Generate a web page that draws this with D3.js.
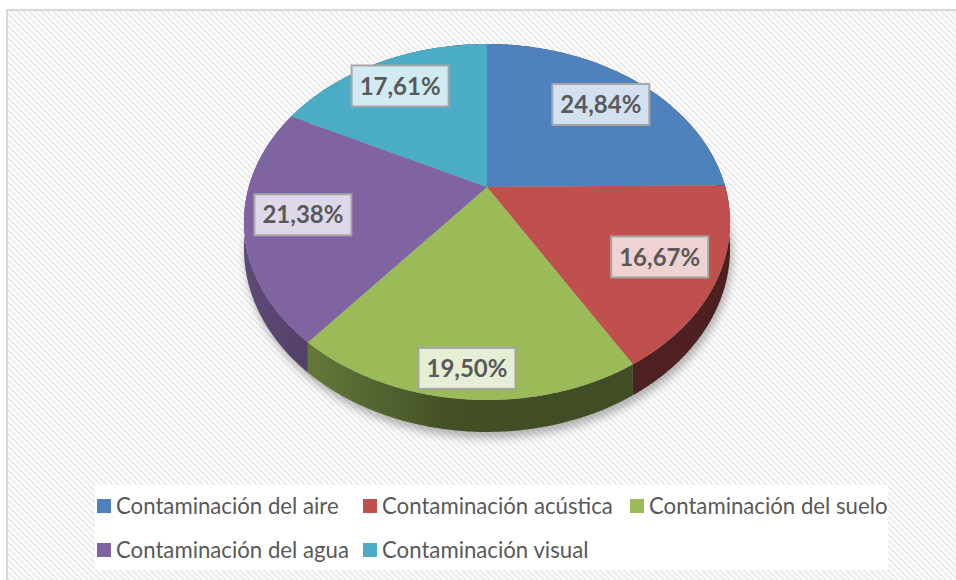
<!DOCTYPE html>
<html><head><meta charset="utf-8">
<script src="https://cdn.jsdelivr.net/npm/d3@7"></script>
<style>body{margin:0;background:#fff;overflow:hidden}</style></head>
<body><svg id="c" width="956" height="580"></svg>
<script>
const categories = ["Contaminación del aire","Contaminación acústica","Contaminación del suelo","Contaminación del agua","Contaminación visual"];
const values = [24.84, 16.67, 19.50, 21.38, 17.61];
const valueLabels = ["24,84%","16,67%","19,50%","21,38%","17,61%"];
const colors = ["#4f81bd","#c0504d","#9bbb59","#8064a2","#4bacc6"];

// layout (not data)
const layout = {cx:487, cy:187, A:238.3, B:171.1, k:0.1966, H:25.7};
const labelRadius = [0.75, 0.77, 0.88, 0.765, 0.785];

const svg = d3.select("#c");
const defs = svg.append("defs");

// hatch background
const pat = defs.append("pattern").attr("id","hatch").attr("patternUnits","userSpaceOnUse")
  .attr("width",6).attr("height",6);
pat.append("rect").attr("width",6).attr("height",6).attr("fill","#fdfdfd");
pat.append("path").attr("d","M0,0L6,6M-1,5L1,7M5,-1L7,1").attr("stroke","#ececec").attr("stroke-width",2);

svg.append("rect").attr("x",7).attr("y",10).attr("width",960).attr("height",580)
  .attr("fill","url(#hatch)").attr("stroke","#d9d9d9").attr("stroke-width",2);

const blur = defs.append("filter").attr("id","sh").attr("x","-20%").attr("y","-20%").attr("width","140%").attr("height","140%");
blur.append("feGaussianBlur").attr("stdDeviation",4);

function proj(theta, r, drop){
  const x = Math.sin(theta)*r, z = -Math.cos(theta)*r;
  const w = 1 - layout.k*z;
  return [layout.cx + layout.A*x/w, layout.cy + (layout.B*z + layout.H*drop)/w];
}
function arcPts(a0, a1, r, drop){
  const n = Math.max(2, Math.ceil((a1-a0)/0.01));
  return d3.range(n+1).map(i => proj(a0 + (a1-a0)*i/n, r, drop));
}

const pie = d3.pie().sort(null).startAngle(0).endAngle(2*Math.PI);
const arcs = pie(values);
const line = d3.line();

// shadow
const outline = arcPts(0, 2*Math.PI, 1, 1);
svg.append("path").attr("d", line(outline)+"Z").attr("fill","#000").attr("opacity",0.28)
  .attr("transform","translate(2,6)").attr("filter","url(#sh)");

// side walls
arcs.forEach((a,i) => {
  const c = d3.rgb(colors[i]);
  const gid = "g"+i;
  const g = defs.append("linearGradient").attr("id",gid).attr("gradientUnits","userSpaceOnUse")
    .attr("x1",244).attr("x2",730).attr("y1",0).attr("y2",0);
  const sc = f => d3.rgb(c.r*f, c.g*f, c.b*f).formatHex();
  [[0,0.74],[0.22,0.58],[0.42,0.43],[1,0.40]].forEach(([o,f]) => g.append("stop").attr("offset",o).attr("stop-color",sc(f)));
  const top = arcPts(a.startAngle, a.endAngle, 1, 0);
  const bot = arcPts(a.startAngle, a.endAngle, 1, 1).reverse();
  svg.append("path").attr("d", line(top.concat(bot))+"Z").attr("fill","url(#"+gid+")");
});

// top faces
arcs.forEach((a,i) => {
  const pts = [proj(0,0,0)].concat(arcPts(a.startAngle, a.endAngle, 1, 0));
  svg.append("path").attr("d", line(pts)+"Z").attr("fill", colors[i]);
});

// labels
arcs.forEach((a,i) => {
  const mid = (a.startAngle + a.endAngle)/2;
  const [u,v] = proj(mid, labelRadius[i], 0);
  const c = d3.rgb(colors[i]);
  const tint = d3.rgb(c.r+(255-c.r)*0.75, c.g+(255-c.g)*0.75, c.b+(255-c.b)*0.75);
  const g = svg.append("g").attr("transform",`translate(${u},${v})`);
  g.append("rect").attr("x",-48.5).attr("y",-20.5).attr("width",97).attr("height",41)
    .attr("fill",tint.formatHex()).attr("stroke","#a6a6a6").attr("stroke-width",2);
  g.append("text").attr("text-anchor","middle").attr("dy","0.36em")
    .attr("font-family","Lato, 'Open Sans', sans-serif").attr("font-weight","bold")
    .attr("font-size",24).attr("fill","#595959").text(valueLabels[i]);
});

// legend
svg.append("rect").attr("x",95).attr("y",485).attr("width",793).attr("height",85).attr("fill","#ffffff");
const colX = [97, 363, 630];
const rowY = [506, 550];
categories.forEach((name,i) => {
  const x = colX[i%3], y = rowY[Math.floor(i/3)];
  svg.append("rect").attr("x",x).attr("y",y-7).attr("width",14).attr("height",14).attr("fill",colors[i]);
  svg.append("text").attr("x",x+19).attr("y",y).attr("dy","0.35em")
    .attr("font-family","Lato, 'Open Sans', sans-serif").attr("font-size",22.2)
    .attr("fill","#595959").text(name);
});
</script></body></html>
